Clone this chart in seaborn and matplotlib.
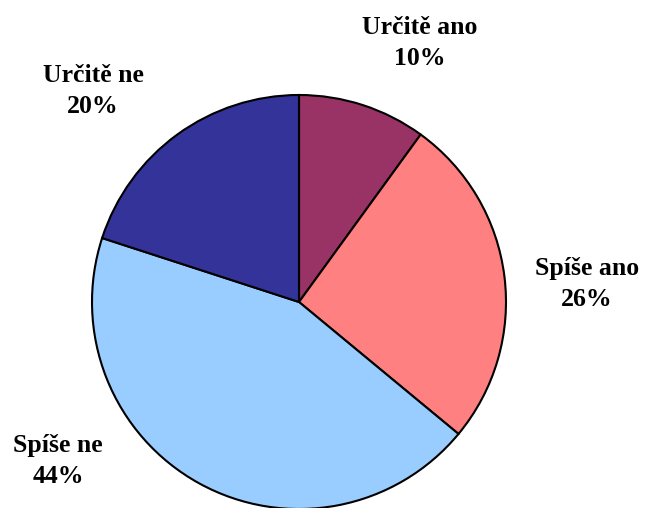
import numpy as np
import seaborn as sns
import matplotlib
matplotlib.use("Agg")
import matplotlib.pyplot as plt

# survey answers, clockwise from the top
categories = ["Určitě ano", "Spíše ano", "Spíše ne", "Určitě ne"]
shares = [10, 26, 44, 20]
colors = ["#993366", "#FF8080", "#99CCFF", "#333399"]

# where the labels sit (pixel coords, origin bottom-left)
label_pos = [(420, 465), (587, 224), (58, 47), (93, 417)]

sns.set_theme(style="white")
plt.rcParams['font.family'] = ['Liberation Serif', 'DejaVu Serif']

fig = plt.figure(figsize=(6.45, 5.08), dpi=100)
ax = fig.add_axes([0, 0, 1, 1])

ax.pie(shares, colors=colors, startangle=90, counterclock=False,
       center=(299, 206), radius=207,
       wedgeprops=dict(edgecolor="black", linewidth=1.5))
ax.set_xlim(0, 645)
ax.set_ylim(0, 508)
ax.set_aspect("equal")
ax.axis("off")

for cat, val, (x, y) in zip(categories, shares, label_pos):
    ax.text(x, y, "{}\n{}%".format(cat, val), ha="center", va="center",
            fontsize=18.5, fontweight="bold", linespacing=1.45, color="black")

fig.savefig("out.png", dpi=100)
